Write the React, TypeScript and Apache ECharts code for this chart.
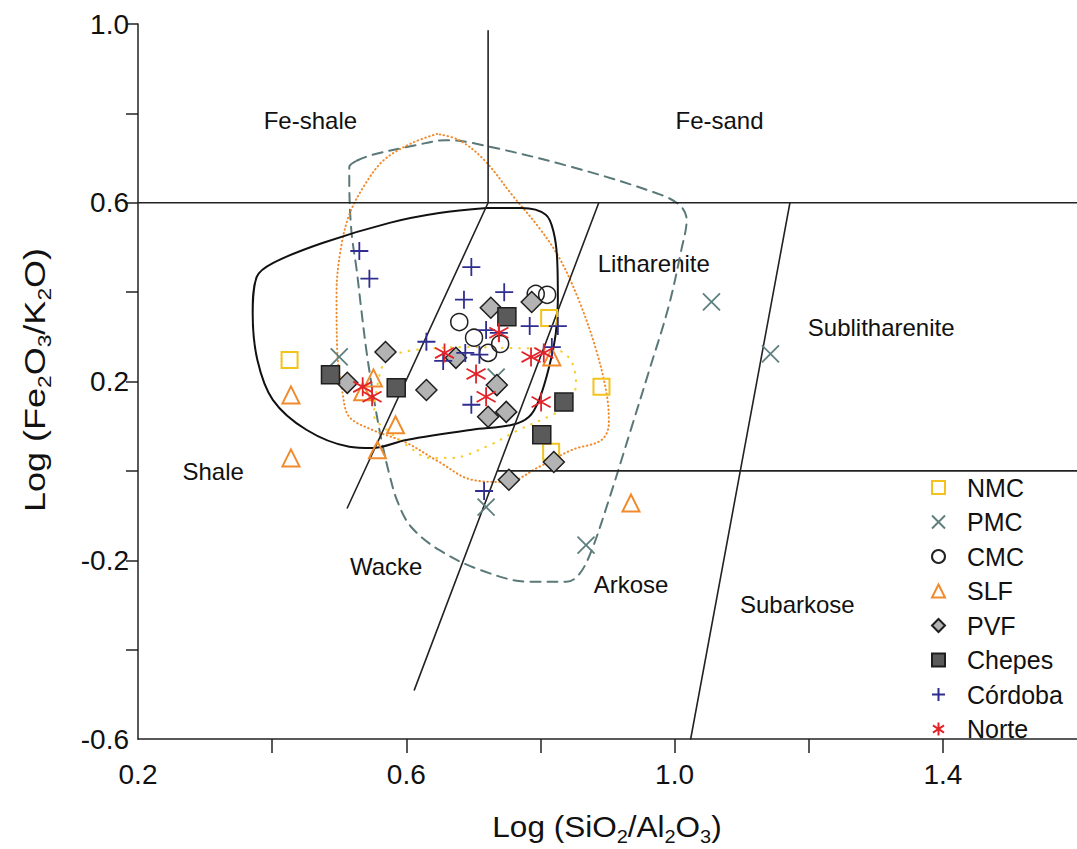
import React, { useEffect, useRef } from 'react';
import * as echarts from 'echarts';

// ---- sample data: [log(SiO2/Al2O3), log(Fe2O3/K2O)] ----
const nmc = [[0.426, 0.248], [0.813, 0.342], [0.891, 0.188], [0.816, 0.043]];
const pmc = [[0.5, 0.255], [1.055, 0.378], [0.734, 0.21], [1.143, 0.262], [0.719, -0.081], [0.868, -0.166]];
const cmc = [[0.679, 0.333], [0.701, 0.298], [0.722, 0.264], [0.74, 0.284], [0.793, 0.396], [0.81, 0.394]];
const slf = [[0.428, 0.17], [0.428, 0.029], [0.551, 0.208], [0.535, 0.177], [0.584, 0.103], [0.557, 0.047], [0.817, 0.255], [0.935, -0.072]];
const pvf = [[0.512, 0.197], [0.569, 0.266], [0.63, 0.181], [0.674, 0.253], [0.726, 0.365], [0.787, 0.378], [0.735, 0.192], [0.722, 0.121], [0.749, 0.132], [0.82, 0.02], [0.753, -0.02]];
const chepes = [[0.487, 0.215], [0.585, 0.186], [0.75, 0.345], [0.835, 0.154], [0.802, 0.081]];
const cordoba = [[0.53, 0.492], [0.545, 0.43], [0.697, 0.456], [0.686, 0.383], [0.746, 0.4], [0.784, 0.324], [0.826, 0.324], [0.719, 0.315], [0.738, 0.309], [0.63, 0.289], [0.655, 0.246], [0.688, 0.264], [0.709, 0.26], [0.817, 0.277], [0.697, 0.148], [0.716, -0.045]];
const norte = [[0.657, 0.264], [0.738, 0.309], [0.704, 0.217], [0.719, 0.166], [0.786, 0.255], [0.805, 0.264], [0.801, 0.154], [0.535, 0.188], [0.549, 0.166]];

// ---- envelopes ----
const envBlack = [[0.72, 0.588], [0.772, 0.588], [0.808, 0.573], [0.82, 0.532], [0.825, 0.472], [0.826, 0.383], [0.823, 0.309], [0.813, 0.233], [0.798, 0.159], [0.783, 0.121], [0.758, 0.103], [0.698, 0.092], [0.6, 0.069], [0.549, 0.051], [0.515, 0.054], [0.451, 0.092], [0.401, 0.159], [0.378, 0.248], [0.371, 0.353], [0.377, 0.434], [0.401, 0.465], [0.475, 0.51], [0.575, 0.555], [0.649, 0.577], [0.72, 0.588]];
const envTeal = [[0.526, 0.694], [0.549, 0.707], [0.615, 0.729], [0.659, 0.74], [0.698, 0.734], [0.847, 0.68], [0.981, 0.617], [1.01, 0.591], [1.018, 0.562], [1.01, 0.494], [0.991, 0.367], [0.961, 0.219], [0.936, 0.098], [0.902, -0.065], [0.875, -0.183], [0.857, -0.233], [0.839, -0.248], [0.783, -0.248], [0.709, -0.221], [0.649, -0.177], [0.607, -0.125], [0.587, -0.069], [0.575, -0.009], [0.563, 0.069], [0.552, 0.159], [0.541, 0.264], [0.533, 0.36], [0.526, 0.45], [0.518, 0.539], [0.515, 0.651], [0.515, 0.68], [0.526, 0.694]];
const envOrange = [[0.646, 0.754], [0.609, 0.734], [0.567, 0.696], [0.538, 0.64], [0.515, 0.573], [0.502, 0.494], [0.496, 0.398], [0.497, 0.271], [0.505, 0.174], [0.515, 0.121], [0.549, 0.092], [0.6, 0.063], [0.649, 0.02], [0.698, -0.02], [0.749, -0.025], [0.798, 0.009], [0.847, 0.047], [0.891, 0.069], [0.902, 0.107], [0.899, 0.17], [0.883, 0.271], [0.857, 0.383], [0.828, 0.477], [0.798, 0.544], [0.758, 0.617], [0.716, 0.696], [0.679, 0.74], [0.646, 0.754]];
const envYellow = [[0.579, 0.26], [0.615, 0.271], [0.694, 0.277], [0.749, 0.275], [0.823, 0.271], [0.845, 0.248], [0.853, 0.197], [0.842, 0.148], [0.817, 0.125], [0.768, 0.092], [0.719, 0.054], [0.668, 0.029], [0.634, 0.029], [0.604, 0.054], [0.575, 0.087], [0.552, 0.125], [0.557, 0.192], [0.567, 0.244], [0.579, 0.26]];

// ---- classification boundaries ----
const lineTop = [[0.2, 0.6], [1.6, 0.6]];
const lineShale = [[0.722, 0.985], [0.722, 0.6], [0.512, -0.083]];
const lineWacke = [[0.887, 0.6], [0.612, -0.49]];
const lineSub = [[1.172, 0.6], [1.024, -0.6]];
const lineZero = [[0.737, 0.0], [1.6, 0.0]];

// ---- field labels ----
const regionNames = ['Fe-shale', 'Fe-sand', 'Litharenite', 'Sublitharenite', 'Shale', 'Wacke', 'Arkose', 'Subarkose'];
const regionPos = [[0.457, 0.785], [1.067, 0.785], [0.969, 0.465], [1.308, 0.32], [0.312, -0.002], [0.57, -0.215], [0.935, -0.255], [1.183, -0.3]];

// ---- axes ----
const xTicks = [0.4, 0.6, 0.8, 1.0, 1.2, 1.4];
const xLabels = [0.2, 0.6, 1.0, 1.4];
const yTicks = [-0.4, -0.2, 0.0, 0.2, 0.4, 0.6, 0.8, 1.0];
const yLabels = [-0.6, -0.2, 0.2, 0.6, 1.0];

const legendNames = ['NMC', 'PMC', 'CMC', 'SLF', 'PVF', 'Chepes', 'Córdoba', 'Norte'];

const FONT = "'Liberation Sans', Arial, sans-serif";
const INK = '#111111';
const SYM_X = 'path://M0,0L20,20M20,0L0,20';
const SYM_PLUS = 'path://M10,0L10,20M0,10L20,10';
const SYM_AST = 'path://M10,0L10,20M1.5,4.5L18.5,15.5M18.5,4.5L1.5,15.5';

const isIn = (v: number, arr: number[]) => arr.some((a) => Math.abs(a - v) < 1e-6);

export default function App() {
  const ref = useRef<HTMLDivElement>(null);
  useEffect(() => {
    const chart = echarts.init(ref.current!, null, { renderer: 'svg' });

    const ln = (data: number[][], color: string, width: number, type: any, smooth: number | boolean) => ({
      type: 'line',
      data,
      symbol: 'none',
      showSymbol: false,
      smooth,
      silent: true,
      z: 2,
      lineStyle: { color, width, type, cap: 'round', join: 'round' },
    });

    const sc = (name: string, data: number[][], symbol: string, size: number, color: string, border: string, bw: number) => ({
      type: 'scatter',
      name,
      data,
      symbol,
      symbolSize: size,
      z: 3,
      itemStyle: { color, borderColor: border, borderWidth: bw, opacity: 1 },
      emphasis: { disabled: true },
    });

    const axisText = { fontSize: 28, color: INK, fontFamily: FONT };
    const richName = {
      b: { fontSize: 30, lineHeight: 38, fontFamily: FONT, fill: INK, color: INK },
      s: { fontSize: 19, lineHeight: 19, verticalAlign: 'bottom', fontFamily: FONT, fill: INK, color: INK },
    };

    const option: any = {
      animation: false,
      backgroundColor: '#ffffff',
      grid: { left: 138, top: 24, bottom: 110, right: -3, containLabel: false },
      xAxis: {
        type: 'value',
        min: 0.2,
        max: 1.6,
        interval: 0.2,
        splitLine: { show: false },
        axisLine: { show: true, onZero: false, lineStyle: { color: '#222', width: 1.5 } },
        axisTick: { show: true, inside: false, length: 14, customValues: xTicks, lineStyle: { color: '#222', width: 1.5 } },
        axisLabel: {
          ...axisText,
          margin: 21,
          customValues: xLabels,
          showMinLabel: true,
          formatter: (v: number) => (isIn(v, xLabels) ? v.toFixed(1) : ''),
        },
      },
      yAxis: {
        type: 'value',
        min: -0.6,
        max: 1.0,
        interval: 0.2,
        splitLine: { show: false },
        axisLine: { show: true, onZero: false, lineStyle: { color: '#222', width: 1.5 } },
        axisTick: { show: true, inside: false, length: 12, customValues: yTicks, lineStyle: { color: '#222', width: 1.5 } },
        axisLabel: {
          ...axisText,
          margin: 9,
          customValues: yLabels,
          showMinLabel: true,
          showMaxLabel: true,
          formatter: (v: number) => (isIn(v, yLabels) ? v.toFixed(1) : ''),
        },
      },
      legend: {
        orient: 'vertical',
        left: 926,
        top: 470,
        itemWidth: 13,
        itemHeight: 13,
        itemGap: 9.5,
        selectedMode: false,
        data: legendNames,
        textStyle: { fontSize: 25, lineHeight: 24, color: INK, fontFamily: FONT, padding: [0, 0, 0, 17] },
      },
      graphic: [
        {
          type: 'text',
          x: 607,
          y: 827,
          scaleX: 1.05,
          style: {
            text: '{b|Log (SiO}{s|2}{b|/Al}{s|2}{b|O}{s|3}{b|)}',
            align: 'center',
            verticalAlign: 'middle',
            rich: richName,
          },
        },
        {
          type: 'text',
          x: 35,
          y: 380,
          rotation: Math.PI / 2,
          scaleX: 1.2,
          style: {
            text: '{b|Log (Fe}{s|2}{b|O}{s|3}{b|/K}{s|2}{b|O)}',
            align: 'center',
            verticalAlign: 'middle',
            rich: richName,
          },
        },
      ],
      series: [
        ln(envTeal, '#5a7878', 2, [10, 7], 0.35),
        ln(envOrange, '#f08a2c', 2, [0.5, 3.5], 0.35),
        ln(envYellow, '#f6cf2e', 2.2, [0.5, 8], 0.35),
        ln(envBlack, '#111111', 2, 'solid', 0.35),
        ln(lineTop, '#222', 1.6, 'solid', false),
        ln(lineShale, '#222', 1.6, 'solid', false),
        ln(lineWacke, '#222', 1.6, 'solid', false),
        ln(lineSub, '#222', 1.6, 'solid', false),
        ln(lineZero, '#222', 1.6, 'solid', false),
        {
          type: 'scatter',
          name: 'regions',
          silent: true,
          symbolSize: 0,
          itemStyle: { color: 'transparent', opacity: 1 },
          data: regionNames.map((n, i) => ({ name: n, value: regionPos[i] })),
          label: {
            show: true,
            position: 'inside',
            formatter: (p: any) => p.name,
            fontSize: 24,
            color: INK,
            opacity: 1,
            fontFamily: FONT,
          },
          z: 1,
        },
        sc('NMC', nmc, 'rect', 16, 'transparent', '#f4c21c', 2),
        sc('PMC', pmc, SYM_X, 17, 'transparent', '#5f7f7f', 1.8),
        sc('CMC', cmc, 'circle', 17, 'transparent', '#222222', 1.5),
        sc('SLF', slf, 'triangle', 17, 'transparent', '#f08a2c', 2),
        sc('PVF', pvf, 'diamond', 21, '#b3b3b3', '#1e1e1e', 1.5),
        sc('Chepes', chepes, 'rect', 18, '#5a5a5a', '#1e1e1e', 1.5),
        sc('Córdoba', cordoba, SYM_PLUS, 18, 'transparent', '#2f2d8f', 1.8),
        sc('Norte', norte, SYM_AST, 19, 'transparent', '#e3232a', 1.8),
      ],
    };

    chart.setOption(option);
    return () => chart.dispose();
  }, []);

  return (
    <div
      ref={ref}
      style={{ position: 'absolute', left: 0, top: 0, width: 1077, height: 849, background: '#ffffff' }}
    />
  );
}
